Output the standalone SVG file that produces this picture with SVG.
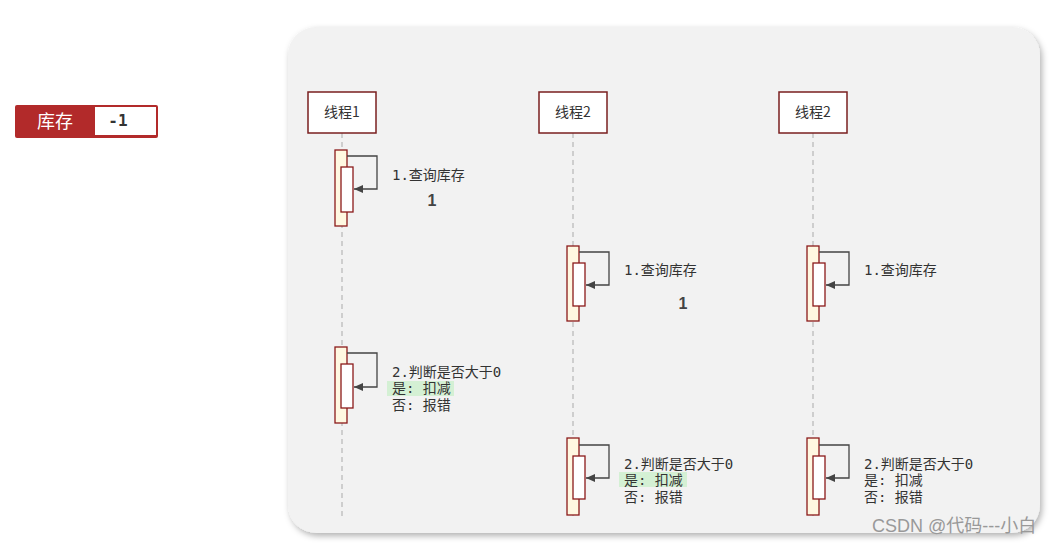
<svg xmlns="http://www.w3.org/2000/svg" width="1054" height="545" viewBox="0 0 1054 545">
<style>
.lbl{font-family:"DejaVu Sans Mono","Noto Sans CJK SC",monospace;font-size:14px;fill:#333}
.num{font-family:"Liberation Sans","DejaVu Sans",sans-serif;font-size:16px;font-weight:bold;fill:#444}
.head{font-family:"Noto Sans CJK SC","Noto Sans",sans-serif;font-size:14px;fill:#333;text-anchor:middle}
.box{fill:#fff;stroke:#7a1f1f;stroke-width:1.5}
.life{stroke:#aaa;stroke-width:1;stroke-dasharray:5,4}
.act{fill:#fff8e1;stroke:#8b1a1a;stroke-width:1.3}
.act2{fill:#fff;stroke:#8b1a1a;stroke-width:1.3}
.loop{fill:none;stroke:#444;stroke-width:1.3}
.hl{fill:#d4f0d4}
</style>
<defs>
<marker id="arr" markerWidth="10" markerHeight="10" refX="9" refY="4" orient="auto" markerUnits="userSpaceOnUse">
<path d="M0,0 L9,4 L0,8 z" fill="#444"/>
</marker>
<filter id="sh" x="-5%" y="-5%" width="110%" height="110%">
<feDropShadow dx="2" dy="3" stdDeviation="3" flood-color="#000" flood-opacity="0.3"/>
</filter>
</defs>
<rect width="1054" height="545" fill="#fff"/>
<g id="stock">
<rect x="15" y="105" width="143" height="33" rx="2" fill="#b22a2a"/>
<rect x="95" y="107" width="61" height="28" fill="#fff"/>
<text x="55" y="128" font-family="Noto Sans CJK SC,sans-serif" font-size="18" fill="#fff" text-anchor="middle">库存</text>
<text x="118" y="126" font-family="DejaVu Sans Mono,monospace" font-size="16" font-weight="bold" fill="#333" text-anchor="middle">-1</text>
</g>
<g id="panel">
<rect x="288" y="27" width="752" height="506" rx="28" fill="#f2f2f2" filter="url(#sh)"/>
</g>
<g id="lifelines">
<line class="life" x1="342" y1="133" x2="342" y2="518"/>
<line class="life" x1="573" y1="133" x2="573" y2="518"/>
<line class="life" x1="813" y1="133" x2="813" y2="518"/>
</g>
<g id="thread1"><rect class="box" x="308" y="92" width="68" height="41"/><text class="head" x="342" y="117">线程1</text></g>
<g id="thread2a"><rect class="box" x="539" y="92" width="68" height="41"/><text class="head" x="573" y="117">线程2</text></g>
<g id="thread2b"><rect class="box" x="779" y="92" width="68" height="41"/><text class="head" x="813" y="117">线程2</text></g>
<g id="activations">
<rect class="act" x="335" y="150" width="12" height="76"/>
<rect class="act2" x="341" y="167" width="12" height="45"/>
<rect class="act" x="567" y="246" width="12" height="75"/>
<rect class="act2" x="573" y="263" width="12" height="43"/>
<rect class="act" x="807" y="246" width="12" height="75"/>
<rect class="act2" x="813" y="263" width="12" height="43"/>
<rect class="act" x="335" y="347" width="12" height="76"/>
<rect class="act2" x="341" y="364" width="12" height="44"/>
<rect class="act" x="567" y="438" width="12" height="77"/>
<rect class="act2" x="573" y="456" width="12" height="43"/>
<rect class="act" x="807" y="438" width="12" height="77"/>
<rect class="act2" x="813" y="456" width="12" height="43"/>
</g>
<g id="connectors">
<path class="loop" d="M347,156 H377 V189 H354" marker-end="url(#arr)"/>
<path class="loop" d="M579,252 H609 V285 H586" marker-end="url(#arr)"/>
<path class="loop" d="M819,252 H849 V285 H826" marker-end="url(#arr)"/>
<path class="loop" d="M347,353 H377 V387 H354" marker-end="url(#arr)"/>
<path class="loop" d="M579,445 H609 V478 H586" marker-end="url(#arr)"/>
<path class="loop" d="M819,445 H849 V478 H826" marker-end="url(#arr)"/>
</g>
<g id="labels">
<text class="lbl" x="392" y="180">1.查询库存</text>
<text class="num" x="432" y="206" text-anchor="middle">1</text>
<text class="lbl" x="624" y="275">1.查询库存</text>
<text class="num" x="683" y="309" text-anchor="middle">1</text>
<text class="lbl" x="864" y="275">1.查询库存</text>
<rect class="hl" x="387" y="381" width="67" height="15"/>
<text class="lbl" x="392" y="377">2.判断是否大于0</text>
<text class="lbl" x="392" y="393">是: 扣减</text>
<text class="lbl" x="392" y="410">否: 报错</text>
<rect class="hl" x="619" y="472" width="68" height="15"/>
<text class="lbl" x="624" y="469">2.判断是否大于0</text>
<text class="lbl" x="624" y="485">是: 扣减</text>
<text class="lbl" x="624" y="502">否: 报错</text>
<text class="lbl" x="864" y="469">2.判断是否大于0</text>
<text class="lbl" x="864" y="485">是: 扣减</text>
<text class="lbl" x="864" y="502">否: 报错</text>
</g>
<text x="872" y="532" font-family="Liberation Sans,Noto Sans CJK SC,sans-serif" font-size="18" fill="#999">CSDN @代码---小白</text>
</svg>
